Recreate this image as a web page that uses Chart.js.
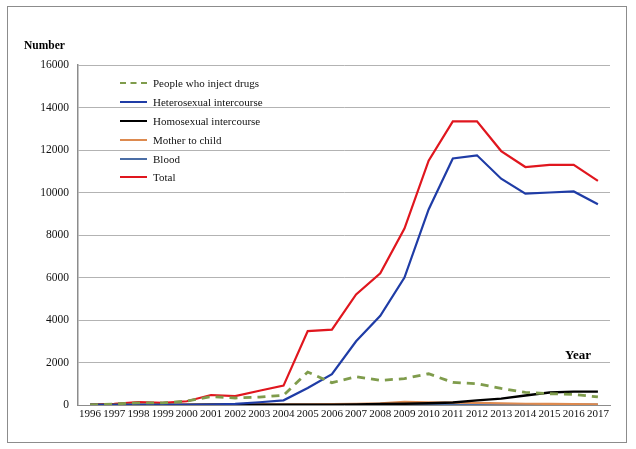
<!DOCTYPE html>
<html>
<head>
<meta charset="utf-8">
<script src="https://cdn.jsdelivr.net/npm/chart.js@4"></script>
<style>
  body { margin: 0; background: #fff; }
  #wrap { position: relative; width: 636px; height: 449px; font-family: "Liberation Serif", "Times New Roman", serif; }
  #frame { position: absolute; left: 7px; top: 6px; width: 620px; height: 437px; border: 1px solid #8c8c8c; box-sizing: border-box; pointer-events: none; }
  .lbl { position: absolute; font-weight: bold; color: #000; line-height: 1; }
  #legend { position: absolute; left: 120px; top: 74px; font-size: 11px; color: #111; }
  .row { height: 18.8px; display: flex; align-items: center; }
  .sample { width: 27px; margin-right: 6px; height: 0; }
</style>
</head>
<body>
<div id="wrap">
  <canvas id="chart" width="636" height="449"></canvas>
  <div id="frame"></div>
  <div class="lbl" style="left:24px;top:40px;font-size:11.5px;">Number</div>
  <div class="lbl" style="left:565px;top:348px;font-size:13px;">Year</div>
  <div id="legend"></div>
</div>
<script>
const years = ["1996","1997","1998","1999","2000","2001","2002","2003","2004","2005","2006",
  "2007","2008","2009","2010","2011","2012","2013","2014","2015","2016","2017"];

const injectDrugs = [0, 50, 100, 100, 180, 400, 330, 370, 460, 1550, 1050,
  1330, 1160, 1240, 1470, 1060, 1000, 780, 590, 530, 500, 380];
const heterosexual = [0, 0, 0, 0, 10, 20, 50, 130, 220, 800, 1450,
  3000, 4200, 6000, 9200, 11600, 11750, 10650, 9950, 10000, 10050, 9450];
const homosexual = [0, 0, 0, 0, 5, 10, 10, 10, 15, 15, 20,
  30, 50, 60, 80, 120, 220, 300, 450, 590, 630, 630];
const motherToChild = [0, 5, 10, 10, 15, 20, 25, 30, 30, 35, 40,
  50, 80, 150, 120, 110, 100, 80, 60, 50, 40, 30];
const blood = [10, 10, 10, 10, 10, 10, 10, 10, 10, 10, 10,
  10, 10, 10, 10, 10, 10, 10, 10, 10, 10, 10];
const total = [20, 60, 140, 100, 175, 470, 420, 670, 910, 3480, 3550,
  5200, 6200, 8300, 11500, 13350, 13350, 11950, 11200, 11300, 11300, 10550];

const yTicks = [0, 2000, 4000, 6000, 8000, 10000, 12000, 14000, 16000];

const series = [
  { label: "People who inject drugs", data: injectDrugs, color: "#7f9c4c", dash: [8, 6], width: 2.8 },
  { label: "Heterosexual intercourse", data: heterosexual, color: "#1f3ca6", dash: [], width: 2.2 },
  { label: "Homosexual intercourse", data: homosexual, color: "#000000", dash: [], width: 2.4 },
  { label: "Mother to child", data: motherToChild, color: "#dd8a4f", dash: [], width: 2.2 },
  { label: "Blood", data: blood, color: "#4b6ea6", dash: [], width: 2.6 },
  { label: "Total", data: total, color: "#e0161e", dash: [], width: 2.2 }
];

const canvas = document.getElementById("chart");

new Chart(canvas, {
  type: "line",
  data: {
    labels: years,
    datasets: series.map((s) => ({
      label: s.label,
      data: s.data,
      borderColor: s.color,
      backgroundColor: s.color,
      borderWidth: s.width,
      borderDash: s.dash,
      pointRadius: 0,
      tension: 0,
      fill: false
    }))
  },
  options: {
    responsive: false,
    animation: false,
    layout: { padding: { top: 65, right: 26, left: 0, bottom: 0 } },
    plugins: {
      legend: { display: false },
      tooltip: { enabled: false }
    },
    scales: {
      x: {
        offset: true,
        grid: { display: false, drawTicks: false },
        border: { color: "#8c8c8c", width: 1 },
        ticks: {
          autoSkip: false,
          maxRotation: 0,
          padding: 3,
          color: "#111",
          font: { family: "Liberation Serif", size: 11 }
        },
        afterFit: (scale) => { scale.height = 44; }
      },
      y: {
        min: 0,
        max: 16000,
        afterBuildTicks: (scale) => { scale.ticks = yTicks.map((v) => ({ value: v })); },
        grid: { color: "#b3b3b3", lineWidth: 1, drawTicks: false },
        border: { color: "#8c8c8c", width: 1.5 },
        ticks: {
          padding: 9,
          color: "#111",
          font: { family: "Liberation Serif", size: 11.5 },
          callback: (value) => String(value)
        },
        afterFit: (scale) => { scale.width = 78; }
      }
    }
  }
});

// legend drawn beside the chart, in the top-left of the plot area
const legend = document.getElementById("legend");
series.forEach((s) => {
  const row = document.createElement("div");
  row.className = "row";
  const sample = document.createElement("div");
  sample.className = "sample";
  sample.style.borderTop = (s.dash.length ? "2.5px dashed " : "2.5px solid ") + s.color;
  const text = document.createElement("span");
  text.textContent = s.label;
  row.appendChild(sample);
  row.appendChild(text);
  legend.appendChild(row);
});
</script>
</body>
</html>
